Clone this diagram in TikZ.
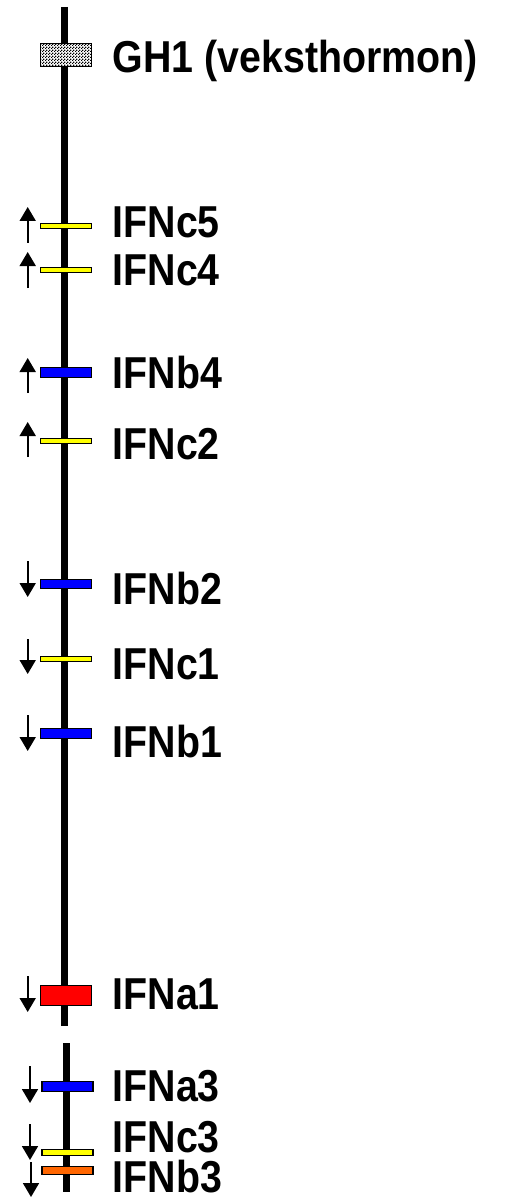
\documentclass[tikz,border=0pt]{standalone}
\usepackage{fontspec}
\setmainfont{Liberation Sans}[FakeStretch=0.88]
\usetikzlibrary{arrows.meta,patterns}
\pgfdeclarepatternformonly{finecheck}{\pgfpointorigin}{\pgfqpoint{3pt}{3pt}}{\pgfqpoint{3pt}{3pt}}{%
  \pgfpathrectangle{\pgfpointorigin}{\pgfqpoint{1.5pt}{1.5pt}}%
  \pgfpathrectangle{\pgfqpoint{1.5pt}{1.5pt}}{\pgfqpoint{1.5pt}{1.5pt}}%
  \pgfusepath{fill}}
\definecolor{genyellow}{RGB}{255,255,0}
\definecolor{genblue}{RGB}{0,0,255}
\definecolor{genred}{RGB}{255,0,0}
\definecolor{genorange}{RGB}{255,102,0}
\tikzset{
  chrom/.style={line width=7pt},
  genebar/.style={draw=black, line width=1.3pt, rectangle, inner sep=0pt, minimum width=51pt},
  thinbar/.style={genebar, fill=genyellow, minimum height=5pt},
  bluebar/.style={genebar, fill=genblue, minimum height=10pt},
  lbl/.style={anchor=base west, inner sep=0pt, font=\fontsize{44.7}{50}\selectfont\bfseries},
  dirarrow/.style={line width=1.8pt, -{Triangle[width=16pt,length=14pt]}}
}
\begin{document}
\begin{tikzpicture}[x=1pt,y=-1pt]
\useasboundingbox (0,0) rectangle (506,1198);
% chromosome segments
\coordinate (top1) at (64.7,7);
\coordinate (bot1) at (64.7,1026);
\coordinate (top2) at (66.7,1043);
\coordinate (bot2) at (66.7,1192);
\draw[chrom] (top1) -- (bot1);
\draw[chrom] (top2) -- (bot2);
% gene bars
\node[genebar, fill=white, minimum height=23pt] (gh1w) at (66,55) {};
\node[genebar, pattern=finecheck, minimum height=23pt] (gh1) at (66,55) {};
\node[thinbar] (c5) at (66,226) {};
\node[thinbar] (c4) at (66,270) {};
\node[bluebar] (b4) at (66,372.5) {};
\node[thinbar] (c2) at (66,441) {};
\node[bluebar, minimum height=9.5pt] (b2) at (66,584) {};
\node[thinbar] (c1) at (66,659) {};
\node[bluebar] (b1) at (66,733.5) {};
\node[genebar, fill=genred, minimum height=20pt] (a1) at (66,995.5) {};
\node[bluebar] (a3) at (67.5,1086.5) {};
\node[thinbar, minimum height=6pt] (c3) at (67.5,1152.5) {};
\node[genebar, fill=genorange, minimum height=8.5pt] (b3) at (67.5,1170.5) {};
% labels
\node[lbl] (lgh1) at (112.5,72.5) {GH1 (veksthormon)};
\node[lbl] (lc5) at (112.5,237) {IFNc5};
\node[lbl] (lc4) at (112.5,285) {IFNc4};
\node[lbl] (lb4) at (112.5,388) {IFNb4};
\node[lbl] (lc2) at (112.5,459) {IFNc2};
\node[lbl] (lb2) at (112.5,604) {IFNb2};
\node[lbl] (lc1) at (112.5,679) {IFNc1};
\node[lbl] (lb1) at (112.5,757) {IFNb1};
\node[lbl] (la1) at (112.5,1009) {IFNa1};
\node[lbl] (la3) at (112.5,1101) {IFNa3};
\node[lbl] (lc3) at (112.5,1152) {IFNc3};
\node[lbl] (lb3) at (112.5,1192) {IFNb3};
% direction arrows
\coordinate (c5t) at (27.7,243); \coordinate (c5h) at (27.7,207);
\coordinate (c4t) at (27.7,288); \coordinate (c4h) at (27.7,252);
\coordinate (b4t) at (27.7,393); \coordinate (b4h) at (27.7,358);
\coordinate (c2t) at (27.7,457); \coordinate (c2h) at (27.7,422);
\coordinate (b2t) at (27.7,561); \coordinate (b2h) at (27.7,597);
\coordinate (c1t) at (27.7,639); \coordinate (c1h) at (27.7,674);
\coordinate (b1t) at (27.7,715); \coordinate (b1h) at (27.7,751);
\coordinate (a1t) at (27.7,976); \coordinate (a1h) at (27.7,1012);
\coordinate (a3t) at (30,1066); \coordinate (a3h) at (30,1103);
\coordinate (c3t) at (30,1124); \coordinate (c3h) at (30,1160);
\coordinate (b3t) at (31,1162); \coordinate (b3h) at (31,1197);
\foreach \g in {c5,c4,b4,c2,b2,c1,b1,a1,a3,c3,b3}
  \draw[dirarrow] (\g t) -- (\g h);
\end{tikzpicture}
\end{document}
